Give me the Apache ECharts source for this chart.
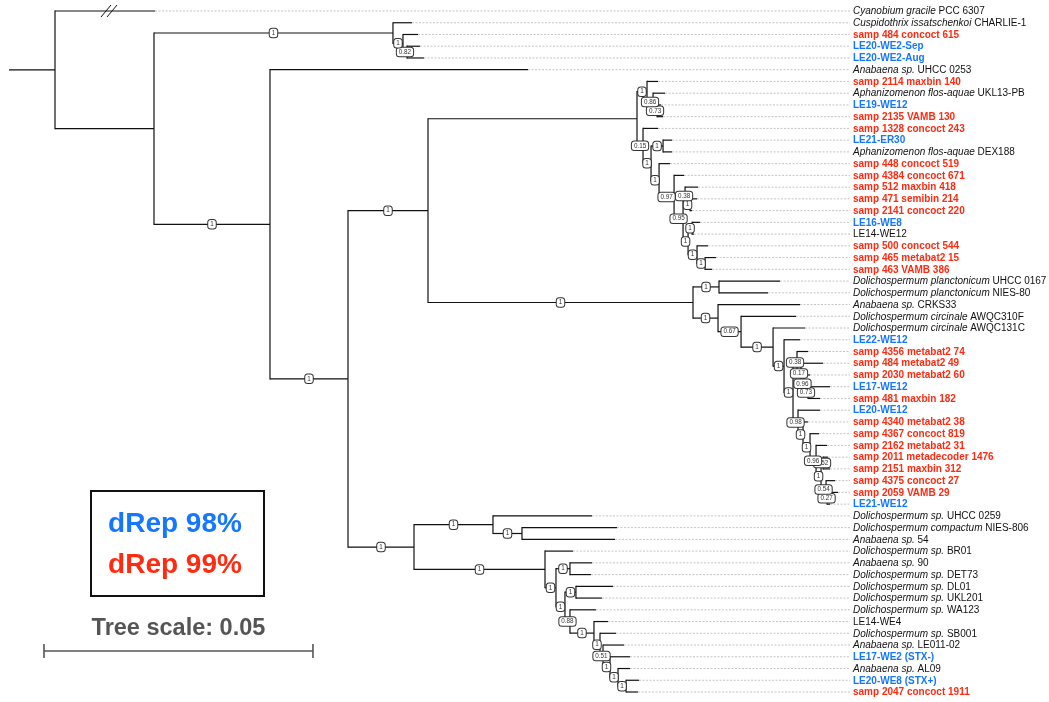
<!DOCTYPE html>
<html><head><meta charset="utf-8">
<script src="https://cdn.jsdelivr.net/npm/echarts@6/dist/echarts.min.js"></script>
<style>html,body{margin:0;padding:0;background:#fff}#c{width:1049px;height:702px}</style>
</head><body><div id="c"></div>
<script>
// ---------- DATA ----------
// Leaf labels in tree order (top to bottom): italic part, plain part, dRep group (r = 99%, b = 98%)
const leafItalic = [
'Cyanobium gracile','Cuspidothrix issatschenkoi','','','','Anabaena sp.','','Aphanizomenon flos-aquae','','',
'','','Aphanizomenon flos-aquae','','','','','','','',
'','','','Dolichospermum planctonicum','Dolichospermum planctonicum','Anabaena sp.','Dolichospermum circinale','Dolichospermum circinale','','',
'','','','','','','','','','',
'','','','Dolichospermum sp.','Dolichospermum compactum','Anabaena sp.','Dolichospermum sp.','Anabaena sp.','Dolichospermum sp.','Dolichospermum sp.',
'Dolichospermum sp.','Dolichospermum sp.','','Dolichospermum sp.','Anabaena sp.','','Anabaena sp.','',''
];
const leafPlain = [
'PCC 6307','CHARLIE-1','samp 484 concoct 615','LE20-WE2-Sep','LE20-WE2-Aug','UHCC 0253','samp 2114 maxbin 140','UKL13-PB','LE19-WE12','samp 2135 VAMB 130',
'samp 1328 concoct 243','LE21-ER30','DEX188','samp 448 concoct 519','samp 4384 concoct 671','samp 512 maxbin 418','samp 471 semibin 214','samp 2141 concoct 220','LE16-WE8','LE14-WE12',
'samp 500 concoct 544','samp 465 metabat2 15','samp 463 VAMB 386','UHCC 0167','NIES-80','CRKS33','AWQC310F','AWQC131C','LE22-WE12','samp 4356 metabat2 74',
'samp 484 metabat2 49','samp 2030 metabat2 60','LE17-WE12','samp 481 maxbin 182','LE20-WE12','samp 4340 metabat2 38','samp 4367 concoct 819','samp 2162 metabat2 31','samp 2011 metadecoder 1476','samp 2151 maxbin 312',
'samp 4375 concoct 27','samp 2059 VAMB 29','LE21-WE12','UHCC 0259','NIES-806','54','BR01','90','DET73','DL01',
'UKL201','WA123','LE14-WE4','SB001','LE011-02','LE17-WE2 (STX-)','AL09','LE20-WE8 (STX+)','samp 2047 concoct 1911'
];
const leafGroup = [
'','','r','b','b','','r','','b','r',
'r','b','','r','r','r','r','r','b','',
'r','r','r','','','','','','b','r',
'r','r','b','r','b','r','r','r','r','r',
'r','r','b','','','','','','','',
'','','','','','b','','b','r'
];
const truncatedLeaves = [0];

// Newick pieces (branch lengths in substitutions/site, internal labels = support)
const cladeTop = "(t1:0.00353,(t2:0.00279,(t3:0.00242,t4:0.00316)0.82:0.00074)1:0.00186)1:0.04442";
const cladeAph = "((t6:0.00204,(t7:0.00223,(t8:0.00074,t9:0.00112)0.73:0.00074)0.86:0.00112)1:0.00186,(t10:0.00279,((t11:0.00167,t12:0.00167)1:0.00223,(t13:0.00204,(t14:0.00186,((t15:0.00242,(t16:0.0013,t17:0.00037)1:0.00093)0.38:0.00037,((t18:0.00149,t19:0.00037)1:0.00074,(t20:0.00204,(t21:0.00204,t22:0.0013)1:0.00149)1:0.00167)1:0.00093)0.95:0.00167)0.97:0.00279)1:0.00149)1:0.00149)0.15:0.00112):0.03885";
const cladeCircW = "(t29:0.00204,(t30:0.00409,(t31:0.00112,(t32:0.00409,t33:0.00223)0.73:0.00074)0.96:0.00056)0.17:0.00074)0.38:0.00074";
const cladeCircAA = "(t34:0.00409,(t35:0.00093,(t36:0.00167,(t37:0.00204,((t38:0.00093,t39:0.0013)0.52:0.00037,(t40:0.00167,(t41:0.00204,t42:0.00056)0.27:0.00019)0.54:0.00093)1:0.00093)0.96:0.00112)1:0.0013)1:0.00093)0.98:0.00093";
const cladeCirc = "((t23:0.01134,t24:0.00911)1:0.00483,(t25:0.01524,(t26:0.01022,(t27:0.00595,(t28:0.00297,(" + cladeCircW + "," + cladeCircAA + ")1:0.00167)1:0.00204)1:0.00595)0.67:0.00428)1:0.00465)1:0.04926";
const cladeBottom = "((t43:0.0184,(t44:0.01766,t45:0.01729)1:0.00539)1:0.01468,(t46:0.0052,((t47:0.00409,t48:0.0039)1:0.0026,((t49:0.00688,t50:0.00483)1:0.00204,(t51:0.00483,(t52:0.0026,(t53:0.00297,(t54:0.0039,(t55:0.00372,(t56:0.00223,(t57:0.00242,t58:0.00223)1:0.00149)1:0.00149)1:0.0013)0.51:0.00056)1:0.00112)1:0.00446)0.88:0.00093)1:0.00167)1:0.00204)1:0.02435)1:0.01227";
const newick = "(t0:0.01859,(" + cladeTop + ",(t5:0.04796,((" + cladeAph + "," + cladeCirc + ")1:0.01487," + cladeBottom + ")1:0.0145)1:0.02156):0.0184):0.00855;";

const treeScaleValue = 0.05;
const treeScaleStart = 0.0065;
const legendLabels = ['dRep 98%', 'dRep 99%'];

// ---------- PARSE + LAYOUT ----------
function parseNewick(s) {
  s = s.replace(/\s+/g, '');
  let i = 0;
  function node() {
    const n = { children: [] };
    if (s[i] === '(') {
      i++;
      n.children.push(node());
      while (s[i] === ',') { i++; n.children.push(node()); }
      i++;
    }
    let name = '';
    while (i < s.length && ':,();'.indexOf(s[i]) < 0) name += s[i++];
    n.name = name;
    n.len = 0;
    if (s[i] === ':') {
      i++; let num = '';
      while (i < s.length && ',();'.indexOf(s[i]) < 0) num += s[i++];
      n.len = parseFloat(num);
    }
    return n;
  }
  return node();
}
const root = parseNewick(newick);
const nodes = [];
let leafCounter = 0;
(function layout(n, pd) {
  n.parentDepth = pd;
  n.depth = pd + n.len;
  if (n.children.length) {
    n.children.forEach(c => layout(c, n.depth));
    n.yTop = n.children[0].y;
    n.yBot = n.children[n.children.length - 1].y;
    n.y = (n.yTop + n.yBot) / 2;
  } else {
    n.leaf = parseInt(n.name.slice(1), 10);
    n.y = leafCounter++;
    n.yTop = n.yBot = n.y;
  }
  nodes.push(n);
})(root, 0);

const branchData = nodes.map(n => [n.depth, n.y, n.parentDepth, n.yTop, n.yBot,
  (n.leaf !== undefined && truncatedLeaves.indexOf(n.leaf) >= 0) ? 1 : 0]);
const leafData = nodes.filter(n => n.leaf !== undefined).map(n => [n.depth, n.y, n.leaf]);
const supportData = nodes.filter(n => n.children.length && n.name !== '')
  .map(n => [(n.depth + n.parentDepth) / 2, n.y, parseFloat(n.name)]);

// ---------- CHART ----------
const RED = '#ff2a10', BLUE = '#1577ff';
const FONT = "'Liberation Sans', Arial, Helvetica, sans-serif";
const LABEL_X = 853;
const chart = echarts.init(document.getElementById('c'), null, { renderer: 'canvas' });

const option = {
  animation: false,
  backgroundColor: '#fff',
  grid: { left: 9, right: 0, top: 11, bottom: 10 },
  xAxis: { type: 'value', min: 0, max: 0.19331, show: false },
  yAxis: { type: 'value', min: 0, max: 58, inverse: true, show: false },
  series: [
    {
      type: 'custom', name: 'leaders', data: leafData, silent: true,
      renderItem: function (params, api) {
        const tip = api.coord([api.value(0), api.value(1)]);
        const idx = api.value(2);
        const it = leafItalic[idx], pl = leafPlain[idx], g = leafGroup[idx];
        let text, style;
        if (g) {
          text = pl;
          style = { fill: g === 'r' ? RED : BLUE, fontWeight: 'bold' };
        } else if (it) {
          text = '{i|' + it + '}{n| ' + pl + '}';
          style = { fill: '#111' };
        } else {
          text = pl; style = { fill: '#111' };
        }
        return {
          type: 'group',
          children: [
            { type: 'line', shape: { x1: tip[0], y1: tip[1], x2: LABEL_X - 3, y2: tip[1] },
              style: { stroke: '#b5b5b5', lineWidth: 0.8, lineDash: [2, 1.5] } },
            { type: 'text', style: Object.assign({
                text: text, x: LABEL_X, y: tip[1] + 0.5, align: 'left', verticalAlign: 'middle',
                fontSize: 10, fontFamily: FONT,
                rich: { i: { fontStyle: 'italic', fontSize: 10, fontFamily: FONT, fill: '#111' },
                        n: { fontSize: 10, fontFamily: FONT, fill: '#111' } }
              }, style) }
          ]
        };
      }
    },
    {
      type: 'custom', name: 'branches', data: branchData, silent: true,
      renderItem: function (params, api) {
        const d = api.value(0), y = api.value(1), pd = api.value(2), y0 = api.value(3), y1 = api.value(4);
        const p = api.coord([d, y]), pp = api.coord([pd, y]);
        const st = { stroke: '#111', lineWidth: 1.2 };
        const ch = [{ type: 'line', shape: { x1: pp[0], y1: p[1], x2: p[0], y2: p[1] }, style: st }];
        if (y1 > y0) {
          const a = api.coord([d, y0]), b = api.coord([d, y1]);
          ch.push({ type: 'line', shape: { x1: a[0], y1: a[1] - 0.6, x2: b[0], y2: b[1] + 0.6 }, style: st });
        }
        if (api.value(5) === 1) {
          const mx = (pp[0] + p[0]) / 2 + 4;
          [-3, 3].forEach(function (o) {
            ch.push({ type: 'line', shape: { x1: mx + o - 5, y1: p[1] + 6, x2: mx + o + 5, y2: p[1] - 6 },
              style: { stroke: '#111', lineWidth: 1 } });
          });
        }
        return { type: 'group', children: ch };
      }
    },
    {
      type: 'custom', name: 'support', data: supportData, silent: true, z: 5,
      renderItem: function (params, api) {
        const p = api.coord([api.value(0), api.value(1)]);
        const v = api.value(2);
        return {
          type: 'text',
          style: {
            text: v === 1 ? '1' : v.toFixed(2), x: p[0], y: p[1], align: 'center', verticalAlign: 'middle',
            fontSize: 6.3, fontFamily: FONT, fill: '#333',
            backgroundColor: '#fff', borderColor: '#333', borderWidth: 1, borderRadius: 2.5,
            padding: [1.5, 2, 1, 2]
          }
        };
      }
    },
    {
      type: 'custom', name: 'scale', data: [[treeScaleStart, treeScaleStart + treeScaleValue]], silent: true,
      renderItem: function (params, api) {
        const x1 = api.coord([api.value(0), 0])[0], x2 = api.coord([api.value(1), 0])[0];
        const y = 651, st = { stroke: '#555', lineWidth: 1.6 };
        return { type: 'group', children: [
          { type: 'line', shape: { x1: x1, y1: y, x2: x2, y2: y }, style: st },
          { type: 'line', shape: { x1: x1, y1: y - 7, x2: x1, y2: y + 7 }, style: st },
          { type: 'line', shape: { x1: x2, y1: y - 7, x2: x2, y2: y + 7 }, style: st },
          { type: 'text', style: { text: 'Tree scale: ' + treeScaleValue, x: (x1 + x2) / 2, y: 629,
              align: 'center', verticalAlign: 'middle', fontSize: 23.5, fontWeight: 'bold',
              fontFamily: FONT, fill: '#555' } }
        ] };
      }
    }
  ],
  graphic: [
    { type: 'rect', shape: { x: 91, y: 491, width: 173, height: 105 },
      style: { fill: '#fff', stroke: '#111', lineWidth: 2 }, z: 10 },
    { type: 'text', x: 175, y: 524, z: 11,
      style: { text: legendLabels[0], align: 'center', verticalAlign: 'middle', fontSize: 28,
        fontWeight: 'bold', fontFamily: FONT, fill: BLUE } },
    { type: 'text', x: 175, y: 565, z: 11,
      style: { text: legendLabels[1], align: 'center', verticalAlign: 'middle', fontSize: 28,
        fontWeight: 'bold', fontFamily: FONT, fill: RED } }
  ]
};
chart.setOption(option);
</script>
</body></html>
